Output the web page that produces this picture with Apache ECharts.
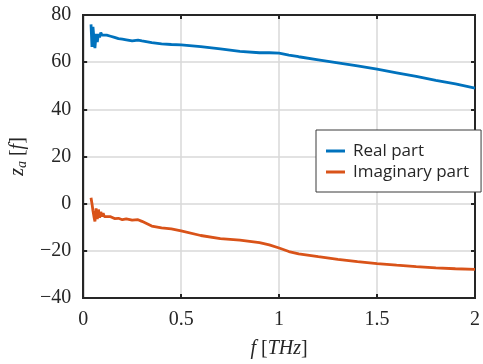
<!DOCTYPE html>
<html>
<head>
<meta charset="utf-8">
<script src="https://cdn.jsdelivr.net/npm/echarts@6/dist/echarts.min.js"></script>
<style>
html,body{margin:0;padding:0;background:#fff;}
#c{width:483px;height:364px;}
</style>
</head>
<body>
<div id="c"></div>
<script>
const freq = [0.04,0.045,0.05,0.055,0.06,0.066,0.072,0.078,0.084,0.09,0.096,0.102,0.108,0.115,0.12,0.14,0.16,0.18,0.2,0.22,0.25,0.28,0.3,0.35,0.4,0.45,0.5,0.6,0.7,0.8,0.9,0.95,1.0,1.05,1.1,1.2,1.3,1.4,1.5,1.6,1.7,1.8,1.9,2.0];
const realPart = [76,66.5,75,70,66,72,68.5,72,70.5,72.5,71.5,72.3,71.5,72,71.5,71,70.5,70,69.8,69.5,69,69.3,69,68.3,67.8,67.5,67.3,66.6,65.6,64.6,64,64,63.8,63,62.3,61,59.7,58.4,57,55.5,54,52.3,50.8,49];
const imagPart = [2.5,0,-3,-5.5,-7.5,-2,-6.5,-2.5,-6,-3.5,-5.5,-4,-5.5,-4.8,-5.5,-5.5,-6.3,-6.2,-6.8,-6.5,-7,-6.8,-7.5,-9.5,-10.3,-10.7,-11.5,-13.5,-14.8,-15.5,-16.5,-17.5,-18.8,-20.3,-21.3,-22.5,-23.6,-24.6,-25.4,-26.1,-26.7,-27.2,-27.6,-27.9];
const xTicks = [0,0.5,1,1.5,2];
const yTicks = [-40,-20,0,20,40,60,80];
const seriesNames = ['Real part','Imaginary part'];

const chart = echarts.init(document.getElementById('c'));
const axisColor = '#262626';
const txt = '#262626';
const numFont = {fontFamily:'Liberation Serif', fontSize:20, color:txt};
function baseX(){ return {
  type:'value', min:xTicks[0], max:xTicks[xTicks.length-1], interval:0.5,
  axisLine:{show:true, onZero:false, lineStyle:{color:axisColor, width:2}},
  axisTick:{show:true, inside:true, length:4, lineStyle:{color:axisColor, width:2}},
  splitLine:{show:false}
};}
function baseY(){ return {
  type:'value', min:yTicks[0], max:yTicks[yTicks.length-1], interval:20,
  axisLine:{show:true, onZero:false, lineStyle:{color:axisColor, width:2}},
  axisTick:{show:true, inside:true, length:4, lineStyle:{color:axisColor, width:2}},
  splitLine:{show:false}
};}
chart.setOption({
  animation:false,
  grid:{left:82, right:5, top:15, bottom:61, show:true, borderColor:axisColor, borderWidth:2},
  legend:{
    data:seriesNames,
    orient:'vertical', left:316, top:130,
    padding:[12,12,11,10], itemGap:3,
    itemWidth:19, itemHeight:3, icon:'rect',
    borderColor:'#3a3a3a', borderWidth:1, backgroundColor:'#fff',
    textStyle:{fontFamily:'Open Sans', fontSize:17, lineHeight:18, color:txt, padding:[0,0,0,3]}
  },
  xAxis:[
    Object.assign(baseX(), {
      position:'bottom',
      axisLabel:Object.assign({margin:12, formatter:v=>String(v)}, numFont),
      splitLine:{show:true, lineStyle:{color:'#d9d9d9', width:1.5}},
      name:'{i|f} [{i|THz}]', nameLocation:'middle', nameGap:41,
      nameTextStyle:{fontFamily:'Liberation Serif', fontSize:20, color:txt,
        rich:{i:{fontFamily:'Liberation Serif', fontStyle:'italic', fontSize:20, color:txt}}}
    }),
    Object.assign(baseX(), {position:'top', axisLabel:{show:false}})
  ],
  yAxis:[
    Object.assign(baseY(), {
      position:'left',
      axisLabel:Object.assign({margin:12, formatter:v=>(v<0?'\u2212'+Math.abs(v):String(v))}, numFont),
      splitLine:{show:true, lineStyle:{color:'#d9d9d9', width:1.5}},
      name:'{i|z}{s|a} [{i|f}]', nameLocation:'middle', nameGap:54,
      nameTextStyle:{fontFamily:'Liberation Serif', fontSize:20, color:txt,
        rich:{i:{fontFamily:'Liberation Serif', fontStyle:'italic', fontSize:20, color:txt},
              s:{fontFamily:'Liberation Serif', fontStyle:'italic', fontSize:14, color:txt, verticalAlign:'bottom', padding:[8,0,0,0]}}}
    }),
    Object.assign(baseY(), {position:'right', axisLabel:{show:false}})
  ],
  series:[
    {name:seriesNames[0], type:'line', xAxisIndex:0, yAxisIndex:0, showSymbol:false, symbol:'none',
     lineStyle:{color:'#0072BD', width:2.8}, itemStyle:{color:'#0072BD'},
     data:freq.map((f,i)=>[f, realPart[i]])},
    {name:seriesNames[1], type:'line', xAxisIndex:0, yAxisIndex:0, showSymbol:false, symbol:'none',
     lineStyle:{color:'#D95319', width:2.8}, itemStyle:{color:'#D95319'},
     data:freq.map((f,i)=>[f, imagPart[i]])}
  ]
});
</script>
</body>
</html>
